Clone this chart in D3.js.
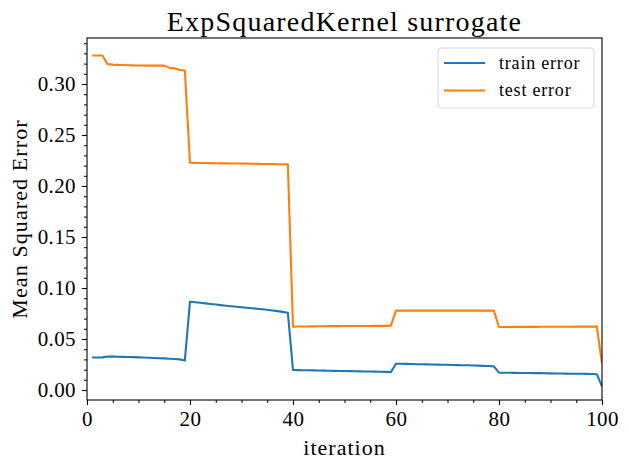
<!DOCTYPE html>
<html>
<head>
<meta charset="utf-8">
<script src="https://cdn.jsdelivr.net/npm/d3@7"></script>
<style>
  body { margin: 0; background: #fff; }
  svg text { font-family: "Liberation Serif", "DejaVu Serif", serif; fill: #000; }
</style>
</head>
<body>
<div id="chart"></div>
<script>
// iteration index and the two error series
const iterations = [
  1, 2, 3, 4, 5, 6, 7, 8, 9, 10, 11, 12, 13, 14, 15, 16, 17, 18, 19, 20,
  21, 22, 23, 24, 25, 26, 27, 28, 29, 30, 31, 32, 33, 34, 35, 36, 37, 38, 39, 40,
  41, 42, 43, 44, 45, 46, 47, 48, 49, 50, 51, 52, 53, 54, 55, 56, 57, 58, 59, 60,
  61, 62, 63, 64, 65, 66, 67, 68, 69, 70, 71, 72, 73, 74, 75, 76, 77, 78, 79, 80,
  81, 82, 83, 84, 85, 86, 87, 88, 89, 90, 91, 92, 93, 94, 95, 96, 97, 98, 99, 100
];

const trainError = [
  0.0318, 0.0318, 0.0320, 0.0328, 0.0327, 0.0326, 0.0325, 0.0324, 0.0322, 0.0320,
  0.0318, 0.0316, 0.0314, 0.0312, 0.0310, 0.0307, 0.0304, 0.0300, 0.0290, 0.0866,
  0.0860, 0.0855, 0.0849, 0.0843, 0.0838, 0.0832, 0.0826, 0.0821, 0.0816, 0.0812,
  0.0807, 0.0802, 0.0797, 0.0792, 0.0786, 0.0780, 0.0773, 0.0766, 0.0758, 0.0196,
  0.0195, 0.0194, 0.0193, 0.0192, 0.0191, 0.0190, 0.0189, 0.0188, 0.0187, 0.0186,
  0.0185, 0.0184, 0.0183, 0.0182, 0.0181, 0.0180, 0.0179, 0.0178, 0.0175, 0.0258,
  0.0257, 0.0256, 0.0255, 0.0253, 0.0252, 0.0251, 0.0250, 0.0249, 0.0248, 0.0247,
  0.0245, 0.0244, 0.0243, 0.0242, 0.0240, 0.0239, 0.0237, 0.0235, 0.0232, 0.0170,
  0.0169, 0.0169, 0.0168, 0.0167, 0.0167, 0.0166, 0.0165, 0.0165, 0.0164, 0.0163,
  0.0162, 0.0162, 0.0161, 0.0160, 0.0159, 0.0159, 0.0158, 0.0157, 0.0155, 0.0035
];

const testError = [
  0.3280, 0.3280, 0.3280, 0.3195, 0.3190, 0.3188, 0.3186, 0.3184, 0.3183, 0.3182,
  0.3181, 0.3180, 0.3180, 0.3180, 0.3180, 0.3158, 0.3155, 0.3138, 0.3133, 0.2228,
  0.2227, 0.2226, 0.2225, 0.2224, 0.2223, 0.2222, 0.2222, 0.2221, 0.2221, 0.2220,
  0.2219, 0.2218, 0.2217, 0.2216, 0.2215, 0.2215, 0.2214, 0.2213, 0.2212, 0.0621,
  0.0622, 0.0622, 0.0622, 0.0624, 0.0625, 0.0625, 0.0626, 0.0626, 0.0626, 0.0627,
  0.0627, 0.0627, 0.0628, 0.0628, 0.0628, 0.0629, 0.0629, 0.0629, 0.0630, 0.0778,
  0.0778, 0.0778, 0.0778, 0.0778, 0.0778, 0.0778, 0.0778, 0.0778, 0.0778, 0.0778,
  0.0778, 0.0778, 0.0778, 0.0778, 0.0778, 0.0778, 0.0778, 0.0778, 0.0778, 0.0618,
  0.0618, 0.0618, 0.0619, 0.0619, 0.0619, 0.0619, 0.0619, 0.0620, 0.0620, 0.0620,
  0.0620, 0.0620, 0.0620, 0.0620, 0.0621, 0.0621, 0.0621, 0.0621, 0.0621, 0.0260
];

const xTicks = [0, 20, 40, 60, 80, 100];
const yTicks = [0.00, 0.05, 0.10, 0.15, 0.20, 0.25, 0.30];
const seriesNames = ["train error", "test error"];
const seriesColors = ["#1f77b4", "#ff7f0e"];

const width = 629;
const height = 469;
const margin = { top: 38, right: 27, bottom: 69, left: 87 };
const innerW = width - margin.left - margin.right;
const innerH = height - margin.top - margin.bottom;

const svg = d3.select("#chart")
  .append("svg")
  .attr("width", width)
  .attr("height", height);

const x = d3.scaleLinear().domain([0, 100]).range([0, innerW]);
const y = d3.scaleLinear().domain([-0.0098, 0.3451]).range([innerH, 0]);

const g = svg.append("g").attr("transform", `translate(${margin.left},${margin.top})`);

// minor ticks first, then major axes on top
const xMinor = d3.range(0, 101, 5).filter((d) => !xTicks.includes(d));
const yMinor = d3.range(-1, 35).map((d) => d / 100).filter((d) => d * 100 % 5 !== 0 && y(d) >= 0 && y(d) <= innerH);

g.append("g")
  .attr("transform", `translate(0,${innerH})`)
  .call(d3.axisBottom(x).tickValues(xMinor).tickSize(3).tickFormat(""))
  .call((a) => a.select(".domain").remove())
  .selectAll("line").attr("stroke-width", 1);

g.append("g")
  .call(d3.axisLeft(y).tickValues(yMinor).tickSize(3).tickFormat(""))
  .call((a) => a.select(".domain").remove())
  .selectAll("line").attr("stroke-width", 1);

const xAxis = g.append("g")
  .attr("transform", `translate(0,${innerH})`)
  .call(d3.axisBottom(x).tickValues(xTicks).tickSize(5).tickPadding(6).tickFormat(d3.format("d")));
xAxis.select(".domain").remove();
xAxis.selectAll("line").attr("stroke-width", 1.1);
xAxis.selectAll("text").attr("font-size", 21).attr("letter-spacing", 0.4).attr("font-family", "Liberation Serif");

const yAxis = g.append("g")
  .call(d3.axisLeft(y).tickValues(yTicks).tickSize(5).tickPadding(6).tickFormat(d3.format(".2f")));
yAxis.select(".domain").remove();
yAxis.selectAll("line").attr("stroke-width", 1.1);
yAxis.selectAll("text").attr("font-size", 21).attr("letter-spacing", 0.4).attr("font-family", "Liberation Serif");

// series lines
const line = (vals) => d3.line()
  .x((d, i) => x(iterations[i]))
  .y((d) => y(d))(vals);

g.append("defs").append("clipPath").attr("id", "plot-clip")
  .append("rect").attr("width", innerW).attr("height", innerH);

[trainError, testError].forEach((vals, i) => {
  g.append("path")
    .attr("d", line(vals))
    .attr("fill", "none")
    .attr("stroke", seriesColors[i])
    .attr("stroke-width", 2.1)
    .attr("stroke-linejoin", "round")
    .attr("clip-path", "url(#plot-clip)");
});

// frame
g.append("rect")
  .attr("width", innerW)
  .attr("height", innerH)
  .attr("fill", "none")
  .attr("stroke", "#000")
  .attr("stroke-width", 1.1);

// legend
const legend = g.append("g").attr("transform", `translate(${438 - margin.left},${48 - margin.top})`);
legend.append("rect")
  .attr("width", 156)
  .attr("height", 60)
  .attr("rx", 3)
  .attr("fill", "#fff")
  .attr("fill-opacity", 0.8)
  .attr("stroke", "#d6d6d6")
  .attr("stroke-width", 1);

seriesNames.forEach((name, i) => {
  const row = legend.append("g").attr("transform", `translate(0,${15 + i * 27.5})`);
  row.append("line")
    .attr("x1", 6).attr("x2", 47)
    .attr("stroke", seriesColors[i])
    .attr("stroke-width", 2.1);
  row.append("text")
    .attr("x", 61)
    .attr("dy", "0.32em")
    .attr("font-size", 18)
    .attr("letter-spacing", 0.8)
    .text(name);
});

// title and labels
svg.append("text")
  .attr("x", margin.left + innerW / 2)
  .attr("y", 31)
  .attr("text-anchor", "middle")
  .attr("font-size", 28)
  .attr("letter-spacing", 1.2)
  .text("ExpSquaredKernel surrogate");

svg.append("text")
  .attr("x", margin.left + innerW / 2)
  .attr("y", 455)
  .attr("text-anchor", "middle")
  .attr("font-size", 22)
  .attr("letter-spacing", 1)
  .text("iteration");

svg.append("text")
  .attr("transform", `translate(27,${margin.top + innerH / 2}) rotate(-90)`)
  .attr("text-anchor", "middle")
  .attr("font-size", 22)
  .attr("letter-spacing", 1.1)
  .text("Mean Squared Error");
</script>
</body>
</html>
